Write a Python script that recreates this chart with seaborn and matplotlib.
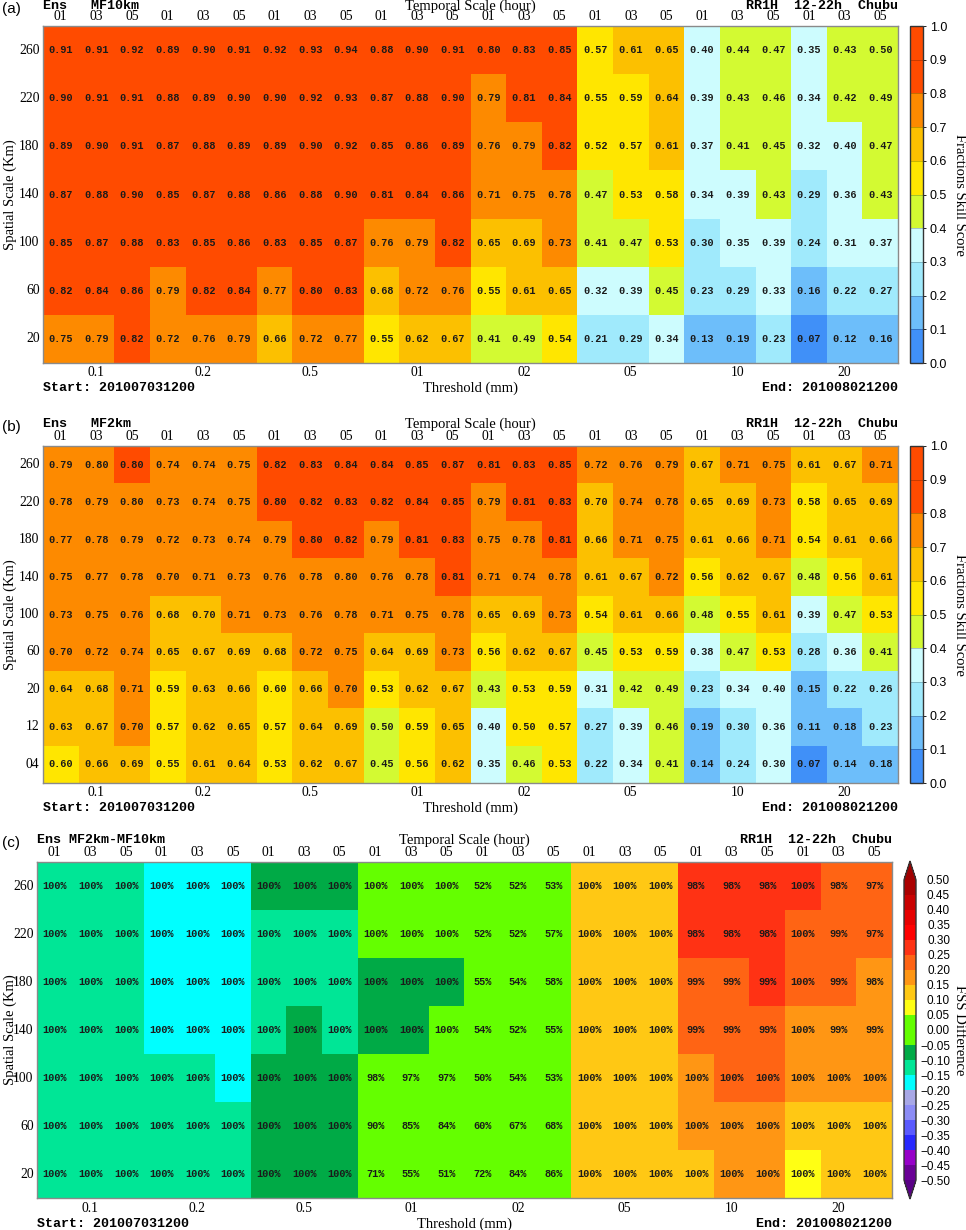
import numpy as np
import pandas as pd
import matplotlib
matplotlib.use("Agg")
import matplotlib.pyplot as plt
from matplotlib.colors import ListedColormap, BoundaryNorm
import matplotlib.cm as cm
import seaborn as sns

# ---------------- data ----------------
thresholds = ["0.1", "0.2", "0.5", "01", "02", "05", "10", "20"]
temporal = ["01", "03", "05"]
spatial_a = ["260", "220", "180", "140", "100", "60", "20"]
spatial_b = ["260", "220", "180", "140", "100", "60", "20", "12", "04"]
spatial_c = ["260", "220", "180", "140", "100", "60", "20"]

# (a) MF10km fractions skill score
a260 = [0.91, 0.91, 0.92, 0.89, 0.90, 0.91, 0.92, 0.93, 0.94, 0.88, 0.90, 0.91, 0.80, 0.83, 0.85, 0.57, 0.61, 0.65, 0.398, 0.44, 0.47, 0.35, 0.43, 0.498]
a220 = [0.90, 0.91, 0.91, 0.88, 0.89, 0.90, 0.90, 0.92, 0.93, 0.87, 0.88, 0.90, 0.79, 0.81, 0.84, 0.55, 0.59, 0.64, 0.39, 0.43, 0.46, 0.34, 0.42, 0.49]
a180 = [0.89, 0.90, 0.91, 0.87, 0.88, 0.89, 0.89, 0.90, 0.92, 0.85, 0.86, 0.89, 0.76, 0.79, 0.82, 0.52, 0.57, 0.61, 0.37, 0.41, 0.45, 0.32, 0.398, 0.47]
a140 = [0.87, 0.88, 0.90, 0.85, 0.87, 0.88, 0.86, 0.88, 0.90, 0.81, 0.84, 0.86, 0.71, 0.75, 0.78, 0.47, 0.53, 0.58, 0.34, 0.39, 0.43, 0.29, 0.36, 0.43]
a100 = [0.85, 0.87, 0.88, 0.83, 0.85, 0.86, 0.83, 0.85, 0.87, 0.76, 0.79, 0.82, 0.65, 0.69, 0.73, 0.41, 0.47, 0.53, 0.298, 0.35, 0.39, 0.24, 0.31, 0.37]
a60 = [0.82, 0.84, 0.86, 0.79, 0.82, 0.84, 0.77, 0.80, 0.83, 0.68, 0.72, 0.76, 0.55, 0.61, 0.65, 0.32, 0.39, 0.45, 0.23, 0.29, 0.33, 0.16, 0.22, 0.27]
a20 = [0.75, 0.79, 0.82, 0.72, 0.76, 0.79, 0.66, 0.72, 0.77, 0.55, 0.62, 0.67, 0.41, 0.49, 0.54, 0.21, 0.29, 0.34, 0.13, 0.19, 0.23, 0.07, 0.12, 0.16]

# (b) MF2km fractions skill score
b260 = [0.79, 0.798, 0.80, 0.74, 0.74, 0.75, 0.82, 0.83, 0.84, 0.84, 0.85, 0.87, 0.81, 0.83, 0.85, 0.72, 0.76, 0.79, 0.67, 0.71, 0.75, 0.61, 0.67, 0.71]
b220 = [0.78, 0.79, 0.798, 0.73, 0.74, 0.75, 0.80, 0.82, 0.83, 0.82, 0.84, 0.85, 0.79, 0.81, 0.83, 0.698, 0.74, 0.78, 0.65, 0.69, 0.73, 0.58, 0.65, 0.69]
b180 = [0.77, 0.78, 0.79, 0.72, 0.73, 0.74, 0.79, 0.80, 0.82, 0.79, 0.81, 0.83, 0.75, 0.78, 0.81, 0.66, 0.71, 0.75, 0.61, 0.66, 0.71, 0.54, 0.61, 0.66]
b140 = [0.75, 0.77, 0.78, 0.70, 0.71, 0.73, 0.76, 0.78, 0.798, 0.76, 0.78, 0.81, 0.71, 0.74, 0.78, 0.61, 0.67, 0.72, 0.56, 0.62, 0.67, 0.48, 0.56, 0.61]
b100 = [0.73, 0.75, 0.76, 0.68, 0.698, 0.71, 0.73, 0.76, 0.78, 0.71, 0.75, 0.78, 0.65, 0.69, 0.73, 0.54, 0.61, 0.66, 0.48, 0.55, 0.61, 0.39, 0.47, 0.53]
b60 = [0.70, 0.72, 0.74, 0.65, 0.67, 0.69, 0.68, 0.72, 0.75, 0.64, 0.69, 0.73, 0.56, 0.62, 0.67, 0.45, 0.53, 0.59, 0.38, 0.47, 0.53, 0.28, 0.36, 0.41]
b20 = [0.64, 0.68, 0.71, 0.59, 0.63, 0.66, 0.598, 0.66, 0.70, 0.53, 0.62, 0.67, 0.43, 0.53, 0.59, 0.31, 0.42, 0.49, 0.23, 0.34, 0.398, 0.15, 0.22, 0.26]
b12 = [0.63, 0.67, 0.70, 0.57, 0.62, 0.65, 0.57, 0.64, 0.69, 0.498, 0.59, 0.65, 0.398, 0.50, 0.57, 0.27, 0.39, 0.46, 0.19, 0.298, 0.36, 0.11, 0.18, 0.23]
b04 = [0.598, 0.66, 0.69, 0.55, 0.61, 0.64, 0.53, 0.62, 0.67, 0.45, 0.56, 0.62, 0.35, 0.46, 0.53, 0.22, 0.34, 0.41, 0.14, 0.24, 0.30, 0.07, 0.14, 0.18]

# (c) FSS difference MF2km - MF10km (cell colour) and percentage (cell text)
d260 = [-0.12, -0.11, -0.12, -0.152, -0.16, -0.16, -0.098, -0.098, -0.098, -0.04, -0.048, -0.04, 0.01, 0.00, 0.00, 0.148, 0.148, 0.14, 0.27, 0.27, 0.28, 0.26, 0.24, 0.21]
d220 = [-0.12, -0.12, -0.11, -0.152, -0.152, -0.152, -0.102, -0.102, -0.102, -0.048, -0.04, -0.048, 0.00, 0.00, -0.01, 0.148, 0.148, 0.14, 0.26, 0.26, 0.27, 0.24, 0.23, 0.202]
d180 = [-0.12, -0.12, -0.12, -0.152, -0.152, -0.152, -0.102, -0.102, -0.102, -0.06, -0.052, -0.06, -0.01, -0.01, -0.01, 0.14, 0.14, 0.14, 0.24, 0.248, 0.26, 0.22, 0.21, 0.19]
d140 = [-0.12, -0.11, -0.12, -0.152, -0.16, -0.152, -0.102, -0.098, -0.102, -0.052, -0.06, -0.048, 0.00, -0.01, 0.00, 0.14, 0.14, 0.14, 0.22, 0.23, 0.24, 0.19, 0.198, 0.18]
d100 = [-0.12, -0.12, -0.12, -0.148, -0.148, -0.152, -0.098, -0.09, -0.09, -0.048, -0.04, -0.04, 0.00, 0.00, 0.00, 0.13, 0.14, 0.13, 0.18, 0.202, 0.22, 0.152, 0.16, 0.16]
d60 = [-0.12, -0.12, -0.12, -0.14, -0.148, -0.148, -0.09, -0.08, -0.08, -0.04, -0.03, -0.03, 0.01, 0.01, 0.02, 0.13, 0.14, 0.14, 0.152, 0.18, 0.198, 0.12, 0.14, 0.14]
d20 = [-0.11, -0.11, -0.11, -0.13, -0.13, -0.13, -0.06, -0.06, -0.07, -0.02, 0.00, 0.00, 0.02, 0.04, 0.048, 0.102, 0.13, 0.148, 0.102, 0.152, 0.17, 0.08, 0.102, 0.102]

p260 = [100, 100, 100, 100, 100, 100, 100, 100, 100, 100, 100, 100, 52, 52, 53, 100, 100, 100, 98, 98, 98, 100, 98, 97]
p220 = [100, 100, 100, 100, 100, 100, 100, 100, 100, 100, 100, 100, 52, 52, 57, 100, 100, 100, 98, 98, 98, 100, 99, 97]
p180 = [100, 100, 100, 100, 100, 100, 100, 100, 100, 100, 100, 100, 55, 54, 58, 100, 100, 100, 99, 99, 99, 100, 99, 98]
p140 = [100, 100, 100, 100, 100, 100, 100, 100, 100, 100, 100, 100, 54, 52, 55, 100, 100, 100, 99, 99, 99, 100, 99, 99]
p100 = [100, 100, 100, 100, 100, 100, 100, 100, 100, 98, 97, 97, 50, 54, 53, 100, 100, 100, 100, 100, 100, 100, 100, 100]
p60 = [100, 100, 100, 100, 100, 100, 100, 100, 100, 90, 85, 84, 60, 67, 68, 100, 100, 100, 100, 100, 100, 100, 100, 100]
p20 = [100, 100, 100, 100, 100, 100, 100, 100, 100, 71, 55, 51, 72, 84, 86, 100, 100, 100, 100, 100, 100, 100, 100, 100]

# ---------------- styles ----------------
fss_colors = ["#4090f8", "#6dbefa", "#a0eafc", "#cdfcfe", "#d3fa32",
              "#ffe600", "#fcc000", "#fd8a00", "#ff4b00", "#ff4b00"]
fss_bounds = [0.0, 0.1, 0.2, 0.3, 0.4, 0.5, 0.6, 0.7, 0.8, 0.9, 1.0]
diff_colors = ["#6a0096", "#9600c8", "#2828ff", "#5a5aff", "#8c8cf5", "#a8a8e6",
               "#00ffff", "#00e696", "#00aa46", "#64ff00", "#64ff00", "#ffff14",
               "#ffc814", "#ff9614", "#ff6414", "#ff3214", "#ff0000", "#e60000",
               "#c80000", "#aa0000"]
diff_bounds = [-0.50, -0.45, -0.40, -0.35, -0.30, -0.25, -0.20, -0.15, -0.10, -0.05, 0.00,
               0.05, 0.10, 0.15, 0.20, 0.25, 0.30, 0.35, 0.40, 0.45, 0.50]

SERIF = "Liberation Serif"
MONO = "Liberation Mono"
SANS = "Liberation Sans"

W, H = 966, 1230
fig = plt.figure(figsize=(W / 100, H / 100), dpi=100)


def fx(x):
    return x / W


def fy(y):
    return 1 - y / H


def axes_px(l, t, r, b):
    return fig.add_axes([fx(l), fy(b), (r - l) / W, (b - t) / H])


columns = [f"{t}-{h}" for t in thresholds for h in temporal]


def panel(values, annot, rows, fmt, cmap, norm, box, cbox, letter, model,
          top_off, tick_pad, bot_off, cb_ticks, cb_labels, cb_label,
          extend="neither", extendfrac=None, drawedges=False, cb_right=None):
    l, t, r, b = box
    ax = axes_px(l, t, r, b)
    df = pd.DataFrame(values, index=rows, columns=columns)
    sns.heatmap(df, ax=ax, cmap=cmap, norm=norm, cbar=False,
                annot=annot, fmt=fmt,
                annot_kws=dict(color="#1a1a1a", fontsize=7.4, family=MONO,
                               fontweight="bold"))
    ax.xaxis.tick_top()
    ax.set_xticks(np.arange(len(columns)) + 0.5)
    ax.set_xticklabels(temporal * len(thresholds), family=SERIF, fontsize=9.8,
                       rotation=0)
    ax.set_yticks(np.arange(len(rows)) + 0.5)
    ax.set_yticklabels(rows, family=SERIF, fontsize=9.8, rotation=0)
    ax.tick_params(axis="x", length=0, pad=tick_pad)
    ax.tick_params(axis="y", length=0, pad=2.5)
    ax.set_xlabel("")
    ax.set_ylabel("")
    for s in ax.spines.values():
        s.set_visible(True)
        s.set_color("#8a8a8a")
        s.set_linewidth(1.0)

    colw = (r - l) / len(columns)
    ytop = t - top_off
    fig.text(fx(2), fy(ytop + 3), letter, family=SANS, fontsize=11,
             ha="left", va="center")
    fig.text(fx(l), fy(ytop), model, family=MONO, fontweight="bold",
             fontsize=9.6, ha="left", va="center")
    fig.text(fx((l + r) / 2), fy(ytop), "Temporal Scale (hour)", family=SERIF,
             fontsize=10.5, ha="center", va="center")
    fig.text(fx(r), fy(ytop), "RR1H  12-22h  Chubu", family=MONO,
             fontweight="bold", fontsize=9.6, ha="right", va="center")

    for i, th in enumerate(thresholds):
        fig.text(fx(l + (3 * i + 1.5) * colw), fy(b + bot_off), th, family=SERIF,
                 fontsize=9.8, ha="center", va="center")
    fig.text(fx(l), fy(b + bot_off + 15), "Start: 201007031200", family=MONO,
             fontweight="bold", fontsize=9.6, ha="left", va="center")
    fig.text(fx((l + r) / 2), fy(b + bot_off + 15), "Threshold (mm)",
             family=SERIF, fontsize=10.5, ha="center", va="center")
    fig.text(fx(r), fy(b + bot_off + 15), "End: 201008021200", family=MONO,
             fontweight="bold", fontsize=9.6, ha="right", va="center")
    fig.text(fx(10), fy((t + b) / 2), "Spatial Scale (Km)", family=SERIF,
             fontsize=10.5, rotation=90, ha="center", va="center")

    cax = axes_px(*cbox)
    sm = cm.ScalarMappable(norm=norm, cmap=cmap)
    kw = dict(cax=cax, ticks=cb_ticks, extend=extend, drawedges=drawedges)
    if extendfrac is not None:
        kw["extendfrac"] = extendfrac
    cb = fig.colorbar(sm, **kw)
    cb.set_ticklabels(cb_labels)
    cl, ct, cr, cbm = cbox
    if cb_right is None:
        cb.ax.tick_params(labelsize=9, length=2, width=0.6, pad=3)
        for lab in cb.ax.get_yticklabels():
            lab.set_family(SANS)
    else:
        padpt = (cb_right - cr) * 72 / 100
        cb.ax.tick_params(labelsize=8.5, length=0, pad=padpt)
        for lab in cb.ax.get_yticklabels():
            lab.set_family(SANS)
            lab.set_horizontalalignment("right")
    cb.outline.set_edgecolor("#333333")
    cb.outline.set_linewidth(1.0)
    if drawedges:
        cb.dividers.set_color("#00000040")
        cb.dividers.set_linewidth(0.6)
    fig.text(fx(959), fy((ct + cbm) / 2), cb_label, family=SERIF, fontsize=10.5,
             rotation=270, ha="center", va="center")
    return ax


fss_cmap = ListedColormap(fss_colors)
fss_norm = BoundaryNorm(fss_bounds, len(fss_colors))
fss_ticks = fss_bounds
fss_ticklabels = [f"{v:.1f}" for v in fss_bounds]

data_a = [a260, a220, a180, a140, a100, a60, a20]
data_b = [b260, b220, b180, b140, b100, b60, b20, b12, b04]
data_d = [d260, d220, d180, d140, d100, d60, d20]
data_p = [p260, p220, p180, p140, p100, p60, p20]

panel(data_a, True, spatial_a, ".2f", fss_cmap, fss_norm,
      (43, 26, 898, 363), (910, 26, 923, 363), "(a)", "Ens   MF10km",
      20, 2.5, 10, fss_ticks, fss_ticklabels, "Fractions Skill Score",
      drawedges=True)

panel(data_b, True, spatial_b, ".2f", fss_cmap, fss_norm,
      (43, 446, 898, 783), (910, 446, 923, 783), "(b)", "Ens   MF2km",
      22, 2.5, 10, fss_ticks, fss_ticklabels, "Fractions Skill Score",
      drawedges=True)

diff_cmap = ListedColormap(diff_colors).with_extremes(under="#5a0087", over="#a00000")
diff_norm = BoundaryNorm(diff_bounds, len(diff_colors))
diff_ticklabels = [f"{round(v, 2):.2f}".replace("-", "\u2212") if abs(v) > 1e-9 else "0.00"
                   for v in diff_bounds]
annot_c = np.array([[f"{v}%" for v in row] for row in data_p])

panel(data_d, annot_c, spatial_c, "", diff_cmap, diff_norm,
      (37, 862, 892, 1198), (904, 861, 916, 1199), "(c)", "Ens MF2km-MF10km",
      22, 2.0, 11, diff_bounds, diff_ticklabels, "FSS Difference",
      extend="both", extendfrac=0.063, cb_right=950)

fig.savefig("out.png", dpi=100)
